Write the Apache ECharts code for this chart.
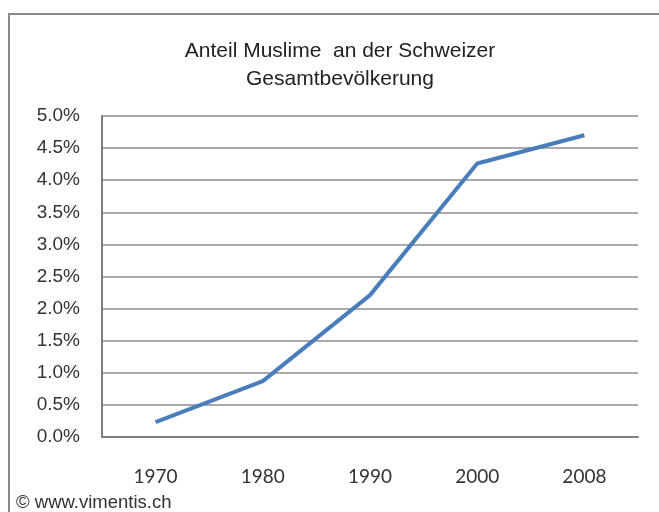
<!DOCTYPE html>
<html>
<head>
<meta charset="utf-8">
<script src="https://cdn.jsdelivr.net/npm/echarts@6/dist/echarts.min.js"></script>
<style>
html,body{margin:0;padding:0;background:#fff;}
#chart{width:659px;height:512px;}
</style>
</head>
<body>
<div id="chart"></div>
<script>
var titleLines = ['Anteil Muslime  an der Schweizer', 'Gesamtbevölkerung'];
var years = ['1970', '1980', '1990', '2000', '2008'];
var muslimShare = [0.23, 0.87, 2.21, 4.26, 4.70];
var yTicks = {min: 0, max: 5, interval: 0.5};
var credit = '© www.vimentis.ch';

var chart = echarts.init(document.getElementById('chart'));
chart.setOption({
  animation: false,
  backgroundColor: '#ffffff',
  title: {
    text: titleLines.join('\n'),
    left: 335,
    textAlign: 'center',
    top: 32,
    textStyle: {fontFamily: 'Liberation Sans', fontSize: 21, fontWeight: 'normal', color: '#222', lineHeight: 28}
  },
  graphic: [
    {type: 'rect', shape: {x: 9, y: 14, width: 700, height: 600}, style: {fill: 'none', stroke: '#8a8a8a', lineWidth: 2}, z: 0},
    {type: 'text', left: 16, top: 493, style: {text: credit, fontFamily: 'Liberation Sans', fontSize: 18.5, fill: '#333'}, z: 2}
  ],
  grid: {left: 102, right: 21, top: 116, bottom: 75},
  xAxis: {
    type: 'category',
    data: years,
    boundaryGap: true,
    axisLine: {lineStyle: {color: '#7f7f7f', width: 2}},
    axisTick: {show: false},
    axisLabel: {fontFamily: 'Lato', fontSize: 19, color: '#333', margin: 30}
  },
  yAxis: {
    type: 'value',
    min: yTicks.min,
    max: yTicks.max,
    interval: yTicks.interval,
    axisLine: {show: true, lineStyle: {color: '#7f7f7f', width: 2}},
    axisTick: {show: false},
    splitLine: {lineStyle: {color: '#8c8c8c', width: 1.5}},
    axisLabel: {
      fontFamily: 'Liberation Sans', fontSize: 19, color: '#333', margin: 22,
      formatter: function (v) { return v.toFixed(1) + '%'; }
    }
  },
  series: [{
    type: 'line',
    data: muslimShare,
    symbol: 'none',
    lineStyle: {color: '#4a7ebb', width: 4},
    z: 5
  }]
});
</script>
</body>
</html>
